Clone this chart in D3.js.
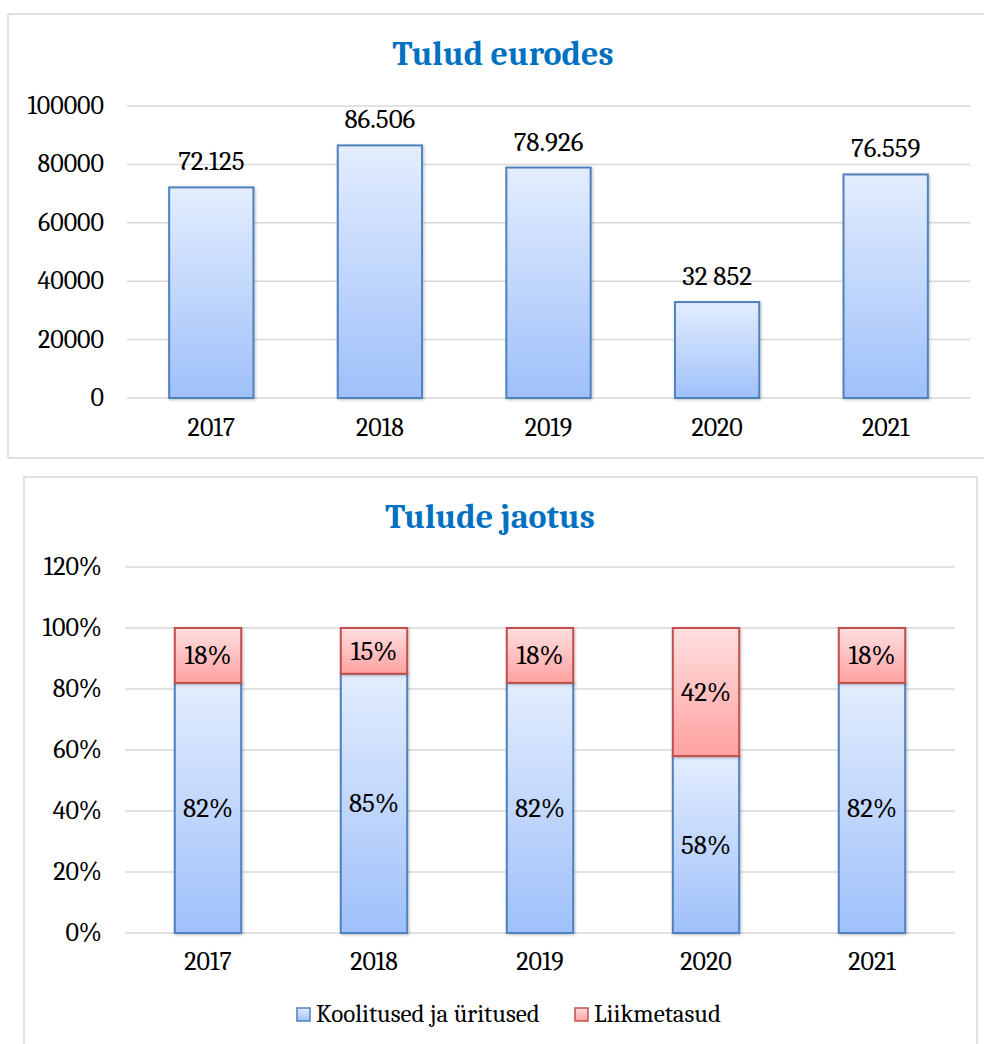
<!DOCTYPE html>
<html>
<head>
  <meta charset="utf-8">
  <title>Tulud</title>
  <script src="https://d3js.org/d3.v7.min.js"></script>
  <style>
    body { margin: 0; background: #fff; }
    text { font-family: Cambria, "Liberation Serif", serif; fill: #000; }
  </style>
</head>
<body>
<script>
  // data
  var years = ["2017", "2018", "2019", "2020", "2021"];
  var income = [72125, 86506, 78926, 32852, 76559];
  var incomeLabels = ["72.125", "86.506", "78.926", "32 852", "76.559"];
  var incomeTicks = [0, 20000, 40000, 60000, 80000, 100000];

  var seriesNames = ["Koolitused ja üritused", "Liikmetasud"];
  var koolitused = [82, 85, 82, 58, 82];
  var liikmetasud = [18, 15, 18, 42, 18];
  var shareTicks = [0, 20, 40, 60, 80, 100, 120];

  var svg = d3.select("body").append("svg")
      .attr("width", 984)
      .attr("height", 1044);

  var defs = svg.append("defs");
  function grad(id, top, bottom) {
    var g = defs.append("linearGradient").attr("id", id)
        .attr("x1", 0).attr("y1", 0).attr("x2", 0).attr("y2", 1);
    g.append("stop").attr("offset", "0%").attr("stop-color", top);
    g.append("stop").attr("offset", "100%").attr("stop-color", bottom);
  }
  grad("blueGrad", "#e3edfe", "#9fc0fa");
  grad("redGrad", "#ffdfdf", "#ffa1a1");

  var shadow = defs.append("filter").attr("id", "shadow")
      .attr("x", "-20%").attr("y", "-20%").attr("width", "140%").attr("height", "140%");
  shadow.append("feDropShadow").attr("dx", 1).attr("dy", 1)
      .attr("stdDeviation", 1.5).attr("flood-color", "#000").attr("flood-opacity", 0.25);

  var fontSize = "27px",
      tickSize = "26px",
      legendSize = "25px";

  /*
    top chart: Tulud eurodes
  */
  svg.append("rect")
      .attr("x", 8).attr("y", 14).attr("width", 990).attr("height", 444)
      .attr("fill", "#fff").attr("stroke", "#d9d9d9").attr("stroke-width", 1.5);

  svg.append("text")
      .attr("x", 503).attr("y", 65)
      .attr("text-anchor", "middle")
      .style("font-size", "34px").style("font-weight", "bold")
      .style("fill", "#0070c0")
      .text("Tulud eurodes");

  var x1 = d3.scaleBand().domain(years).range([127, 970])
      .paddingInner(0.5).paddingOuter(0.25);
  var y1 = d3.scaleLinear().domain([0, 100000]).range([398, 106]);

  var g1 = svg.append("g");
  g1.selectAll(".grid").data(incomeTicks).enter().append("line")
      .attr("x1", 127).attr("x2", 970)
      .attr("y1", function (d) { return y1(d); })
      .attr("y2", function (d) { return y1(d); })
      .attr("stroke", "#d9d9d9").attr("stroke-width", 1.5);

  g1.selectAll(".tick").data(incomeTicks).enter().append("text")
      .attr("x", 104)
      .attr("y", function (d) { return y1(d) + 8; })
      .attr("text-anchor", "end")
      .style("font-size", tickSize)
      .text(function (d) { return d; });

  g1.selectAll(".bar").data(income).enter().append("rect")
      .attr("x", function (d, i) { return x1(years[i]); })
      .attr("y", function (d) { return y1(d); })
      .attr("width", x1.bandwidth())
      .attr("height", function (d) { return y1(0) - y1(d); })
      .attr("fill", "url(#blueGrad)")
      .attr("stroke", "#4f81bd").attr("stroke-width", 2)
      .attr("filter", "url(#shadow)");

  g1.selectAll(".val").data(income).enter().append("text")
      .attr("x", function (d, i) { return x1(years[i]) + x1.bandwidth() / 2; })
      .attr("y", function (d) { return y1(d) - 17; })
      .attr("text-anchor", "middle")
      .style("font-size", fontSize)
      .text(function (d, i) { return incomeLabels[i]; });

  g1.selectAll(".year").data(years).enter().append("text")
      .attr("x", function (d) { return x1(d) + x1.bandwidth() / 2; })
      .attr("y", 436)
      .attr("text-anchor", "middle")
      .style("font-size", tickSize)
      .text(function (d) { return d; });

  /*
    bottom chart: Tulude jaotus (stacked)
  */
  svg.append("rect")
      .attr("x", 24).attr("y", 477).attr("width", 953).attr("height", 600)
      .attr("fill", "#fff").attr("stroke", "#d9d9d9").attr("stroke-width", 1.5);

  svg.append("text")
      .attr("x", 490).attr("y", 528)
      .attr("text-anchor", "middle")
      .style("font-size", "34px").style("font-weight", "bold")
      .style("fill", "#0070c0")
      .text("Tulude jaotus");

  var x2 = d3.scaleBand().domain(years).range([125, 955])
      .paddingInner(0.6).paddingOuter(0.3);
  var y2 = d3.scaleLinear().domain([0, 120]).range([933, 567]);

  var g2 = svg.append("g");
  g2.selectAll(".grid").data(shareTicks).enter().append("line")
      .attr("x1", 125).attr("x2", 955)
      .attr("y1", function (d) { return y2(d); })
      .attr("y2", function (d) { return y2(d); })
      .attr("stroke", "#d9d9d9").attr("stroke-width", 1.5);

  g2.selectAll(".tick").data(shareTicks).enter().append("text")
      .attr("x", 102)
      .attr("y", function (d) { return y2(d) + 8; })
      .attr("text-anchor", "end")
      .style("font-size", tickSize)
      .text(function (d) { return d + "%"; });

  var stackData = years.map(function (yr, i) {
    return { year: yr, a: koolitused[i], b: liikmetasud[i] };
  });
  var stacked = d3.stack().keys(["a", "b"])(stackData);
  var fills = ["url(#blueGrad)", "url(#redGrad)"];
  var strokes = ["#4f81bd", "#c0504d"];

  stacked.forEach(function (layer, li) {
    var lg = g2.append("g");
    lg.selectAll("rect").data(layer).enter().append("rect")
        .attr("x", function (d) { return x2(d.data.year); })
        .attr("y", function (d) { return y2(d[1]); })
        .attr("width", x2.bandwidth())
        .attr("height", function (d) { return y2(d[0]) - y2(d[1]); })
        .attr("fill", fills[li])
        .attr("stroke", strokes[li]).attr("stroke-width", 2)
        .attr("filter", "url(#shadow)");
    lg.selectAll("text").data(layer).enter().append("text")
        .attr("x", function (d) { return x2(d.data.year) + x2.bandwidth() / 2; })
        .attr("y", function (d) { return (y2(d[0]) + y2(d[1])) / 2 + 9; })
        .attr("text-anchor", "middle")
        .style("font-size", fontSize)
        .text(function (d) { return (d[1] - d[0]) + "%"; });
  });

  g2.selectAll(".year").data(years).enter().append("text")
      .attr("x", function (d) { return x2(d) + x2.bandwidth() / 2; })
      .attr("y", 970)
      .attr("text-anchor", "middle")
      .style("font-size", tickSize)
      .text(function (d) { return d; });

  // legend
  var legendX = [297, 575];
  var legend = svg.append("g");
  seriesNames.forEach(function (name, i) {
    legend.append("rect")
        .attr("x", legendX[i]).attr("y", 1008)
        .attr("width", 13).attr("height", 13)
        .attr("fill", fills[i])
        .attr("stroke", strokes[i]).attr("stroke-width", 1.5);
    legend.append("text")
        .attr("x", legendX[i] + 19).attr("y", 1022)
        .style("font-size", legendSize)
        .text(name);
  });
</script>
</body>
</html>
